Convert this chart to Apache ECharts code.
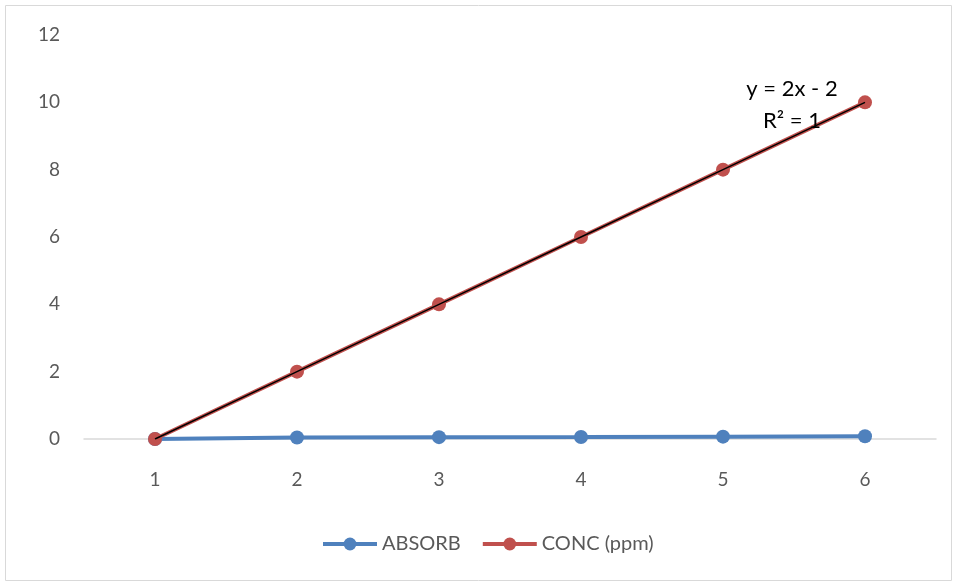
<!DOCTYPE html>
<html>
<head>
<meta charset="utf-8">
<script src="https://cdn.jsdelivr.net/npm/echarts@6/dist/echarts.min.js"></script>
<style>
  html, body { margin: 0; padding: 0; background: #fff; }
  #chart { width: 958px; height: 583px; }
</style>
</head>
<body>
<div id="chart"></div>
<script>
// Sample index along the x axis
const categories = ['1', '2', '3', '4', '5', '6'];
// Measured absorbance
const absorb = [0, 0.045, 0.055, 0.06, 0.07, 0.08];
// Standard concentrations (ppm)
const conc = [0, 2, 4, 6, 8, 10];

// Least-squares linear trendline through the concentration series
function linearFit(ys) {
  const n = ys.length;
  const xs = ys.map((_, i) => i + 1);
  const mx = xs.reduce((a, b) => a + b, 0) / n;
  const my = ys.reduce((a, b) => a + b, 0) / n;
  let sxy = 0, sxx = 0, syy = 0;
  for (let i = 0; i < n; i++) {
    sxy += (xs[i] - mx) * (ys[i] - my);
    sxx += (xs[i] - mx) ** 2;
    syy += (ys[i] - my) ** 2;
  }
  const slope = sxy / sxx;
  const intercept = my - slope * mx;
  const r2 = (sxy * sxy) / (sxx * syy);
  return { slope, intercept, r2, fitted: xs.map(x => slope * x + intercept) };
}
const fit = linearFit(conc);
const fmt = v => String(Math.round(v * 10000) / 10000);
const eqText = 'y = ' + fmt(fit.slope) + 'x ' + (fit.intercept < 0 ? '- ' : '+ ') + fmt(Math.abs(fit.intercept));
const r2Text = 'R² = ' + fmt(fit.r2);

const FONT = 'Lato, "Open Sans", sans-serif';
const chart = echarts.init(document.getElementById('chart'));
chart.setOption({
  animation: false,
  textStyle: { fontFamily: FONT },
  graphic: [
    {
      type: 'rect', silent: true, z: -10,
      shape: { x: 5.5, y: 5.5, width: 946, height: 575 },
      style: { fill: 'none', stroke: '#d9d9d9', lineWidth: 1 }
    },
    {
      type: 'text', x: 792, y: 89, z: 10,
      style: { text: eqText, font: '22px ' + FONT, fill: '#000', align: 'center', verticalAlign: 'middle' }
    },
    {
      type: 'text', x: 792, y: 121, z: 10,
      style: { text: r2Text, font: '22px ' + FONT, fill: '#000', align: 'center', verticalAlign: 'middle' }
    }
  ],
  grid: { left: 84, right: 22, top: 35, bottom: 144, containLabel: false },
  legend: {
    bottom: 24,
    left: 316,
    itemWidth: 54,
    itemHeight: 16,
    itemGap: 20,
    lineStyle: { width: 4 },
    textStyle: { color: '#595959', fontSize: 20, fontFamily: FONT },
    data: ['ABSORB', 'CONC (ppm)']
  },
  xAxis: {
    type: 'category',
    data: categories,
    boundaryGap: true,
    axisLine: { lineStyle: { color: '#d9d9d9', width: 1.5 } },
    axisTick: { show: false },
    axisLabel: { color: '#595959', fontSize: 19, margin: 31 },
    splitLine: { show: false }
  },
  yAxis: {
    type: 'value',
    min: 0, max: 12, interval: 2,
    axisLine: { show: false },
    axisTick: { show: false },
    axisLabel: { color: '#595959', fontSize: 19, margin: 24 },
    splitLine: { show: false }
  },
  series: [
    {
      name: 'ABSORB', type: 'line', data: absorb,
      symbol: 'circle', symbolSize: 14,
      itemStyle: { color: '#4f81bd' },
      lineStyle: { color: '#4f81bd', width: 4 },
      z: 2
    },
    {
      name: 'CONC (ppm)', type: 'line', data: conc,
      symbol: 'circle', symbolSize: 14,
      itemStyle: { color: '#c0504d' },
      lineStyle: { color: '#c0504d', width: 4 },
      z: 3
    },
    {
      name: 'Linear (CONC (ppm))', type: 'line', data: fit.fitted,
      symbol: 'none',
      lineStyle: { color: '#000', width: 1.5 },
      z: 4, silent: true
    }
  ]
});
</script>
</body>
</html>
